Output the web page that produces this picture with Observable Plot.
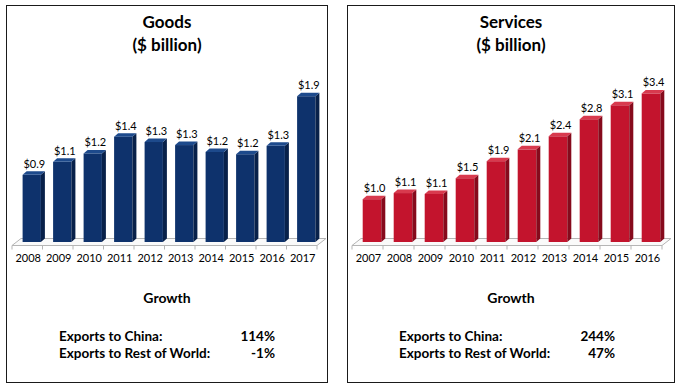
<!DOCTYPE html>
<html>
<head>
<meta charset="utf-8">
<script src="https://cdn.jsdelivr.net/npm/d3@7"></script>
<script src="https://cdn.jsdelivr.net/npm/@observablehq/plot@0.6"></script>
<style>
  html, body { margin: 0; padding: 0; background: #fff; }
  #page { position: relative; width: 682px; height: 386px; background: #fff; font-family: Lato, "Open Sans", sans-serif; color: #000; overflow: hidden; }
  .panel { position: absolute; box-sizing: border-box; border: 1px solid #1a1a1a; }
  .title { position: absolute; text-align: center; font-weight: bold; font-size: 17px; line-height: 23px; }
  .growth { position: absolute; font-weight: bold; font-size: 14px; text-align: center; }
  .row { position: absolute; font-weight: bold; font-size: 13.5px; white-space: nowrap; }
  .plot { position: absolute; }
</style>
</head>
<body>
<div id="page"></div>
<script>
// ---- data ----
const goodsYears = ["2008","2009","2010","2011","2012","2013","2014","2015","2016","2017"];
const goodsValues = [0.88, 1.05, 1.16, 1.38, 1.31, 1.27, 1.18, 1.15, 1.26, 1.91];
const goodsLabels = ["$0.9","$1.1","$1.2","$1.4","$1.3","$1.3","$1.2","$1.2","$1.3","$1.9"];

const servicesYears = ["2007","2008","2009","2010","2011","2012","2013","2014","2015","2016"];
const servicesValues = [0.98, 1.12, 1.10, 1.46, 1.85, 2.12, 2.42, 2.81, 3.13, 3.40];
const servicesLabels = ["$1.0","$1.1","$1.1","$1.5","$1.9","$2.1","$2.4","$2.8","$3.1","$3.4"];

const growthRows = ["Exports to China:", "Exports to Rest of World:"];
const goodsGrowth = ["114%", "-1%"];
const servicesGrowth = ["244%", "47%"];

// ---- helpers ----
const HALF = 0.3;          // half bar width in slot units
const DX = 4, DY = -3.5;   // 3D depth offset in px
const FLOOR_DX = 4.5, FLOOR_DY = 3.5;

function depthFaces(data, sideFill, topFill) {
  return (index, scales) => {
    const x = scales.x, y = scales.y;
    const g = d3.create("svg:g");
    const y0 = y(0);
    for (const d of data) {
      const x1 = x(d.i - HALF), x2 = x(d.i + HALF), yt = y(d.v);
      g.append("path").attr("fill", sideFill)
        .attr("d", `M${x2},${y0}L${x2+DX},${y0+DY}L${x2+DX},${yt+DY}L${x2},${yt}Z`);
      g.append("path").attr("fill", topFill)
        .attr("d", `M${x1},${yt}L${x1+DX},${yt+DY}L${x2+DX},${yt+DY}L${x2},${yt}Z`);
    }
    return g.node();
  };
}

function floorMark(n) {
  return (index, scales) => {
    const x = scales.x, y = scales.y;
    const g = d3.create("svg:g").attr("fill", "none").attr("stroke", "#b5b5b5").attr("stroke-width", 1);
    const y0 = y(0);
    const xa = x(-0.5), xb = x(n - 0.5);
    g.append("path").attr("fill", "#fafafa")
      .attr("d", `M${xa-FLOOR_DX},${y0+FLOOR_DY}L${xb-FLOOR_DX},${y0+FLOOR_DY}L${xb+FLOOR_DX},${y0-FLOOR_DY}L${xa+FLOOR_DX},${y0-FLOOR_DY}Z`);
    for (let k = 0; k <= n; k++) {
      const xx = x(k - 0.5) - FLOOR_DX;
      g.append("line").attr("x1", xx).attr("x2", xx)
        .attr("y1", y0 + FLOOR_DY).attr("y2", y0 + FLOOR_DY + 4);
    }
    return g.node();
  };
}

function makeChart({years, values, labels, yMax, width, marginLeft, marginRight, front, side, top}) {
  const data = years.map((yr, i) => ({i, year: yr, v: values[i], label: labels[i]}));
  return Plot.plot({
    width, height: 220,
    marginTop: 0, marginBottom: 33, marginLeft, marginRight,
    x: {domain: [-0.5, years.length - 0.5], axis: null},
    y: {domain: [0, yMax], axis: null},
    style: {fontFamily: "Lato, 'Open Sans', sans-serif", fontSize: "11px", color: "#000", background: "transparent", overflow: "visible"},
    marks: [
      floorMark(years.length),
      Plot.rectY(data, {x1: d => d.i - HALF, x2: d => d.i + HALF, y: "v", fill: front}),
      depthFaces(data, side, top),
      Plot.text(data, {x: "i", y: "v", text: "label", dy: -11, dx: 2, fontSize: 11, fill: "#000"}),
      Plot.text(data, {x: "i", y: 0, text: "year", dy: 16, dx: -4, fontSize: 11, fill: "#000"})
    ]
  });
}

// ---- layout ----
const page = document.getElementById("page");
function add(html, cls, style) {
  const el = document.createElement("div");
  el.className = cls;
  Object.assign(el.style, style);
  el.innerHTML = html;
  page.appendChild(el);
  return el;
}

const panels = [
  {left: 6, width: 322, titleMain: "Goods", years: goodsYears, values: goodsValues, labels: goodsLabels,
   yMax: 2.45, svgLeft: 0, svgWidth: 340, mL: 16.5, mR: 18.5, growth: goodsGrowth,
   rowLeft: 59, pctRight: 275,
   front: "#0e326c", side: "#08214a", top: "#1d4a8c"},
  {left: 347, width: 328, titleMain: "Services", years: servicesYears, values: servicesValues, labels: servicesLabels,
   yMax: 4.28, svgLeft: 340, svgWidth: 342, mL: 16.5, mR: 15.5, growth: servicesGrowth,
   rowLeft: 399, pctRight: 615,
   front: "#c3142d", side: "#860a1c", top: "#d83a4e"}
];

for (const p of panels) {
  add("", "panel", {left: p.left + "px", top: "5px", width: p.width + "px", height: "378px"});
  add(p.titleMain + "<br>($ billion)", "title", {left: p.left + "px", width: p.width + "px", top: "10px"});
  const chart = makeChart({years: p.years, values: p.values, labels: p.labels, yMax: p.yMax,
    width: p.svgWidth, marginLeft: p.mL, marginRight: p.mR, front: p.front, side: p.side, top: p.top});
  const wrap = add("", "plot", {left: p.svgLeft + "px", top: "55px"});
  wrap.appendChild(chart);
  add("Growth", "growth", {left: p.left + "px", width: p.width + "px", top: "289px"});
  growthRows.forEach((r, k) => {
    add(r, "row", {left: p.rowLeft + "px", top: (328 + k * 16.7) + "px"});
    add(p.growth[k], "row", {left: (p.pctRight - 60) + "px", width: "60px", textAlign: "right", top: (328 + k * 16.7) + "px"});
  });
}
</script>
</body>
</html>
